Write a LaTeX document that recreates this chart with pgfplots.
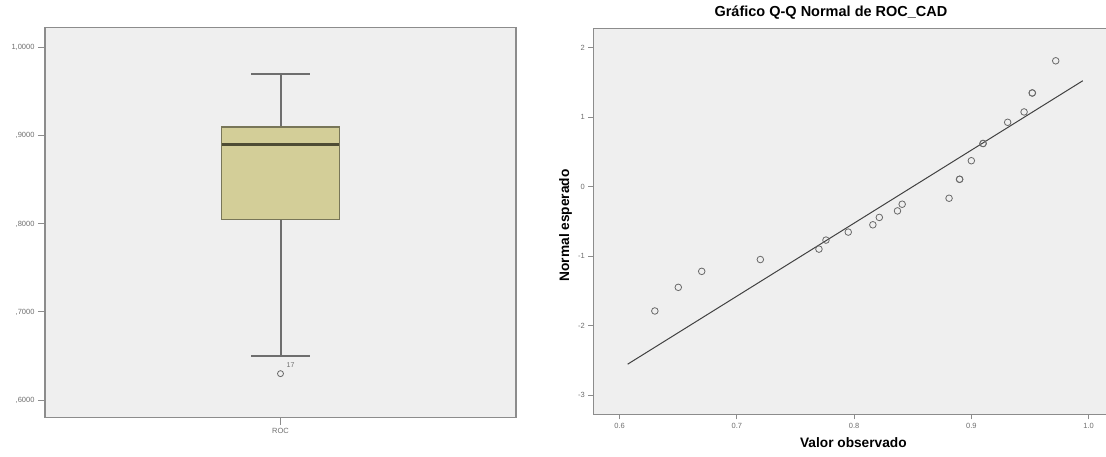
\documentclass[border=0pt]{standalone}
\usepackage{pgfplots}
\pgfplotsset{compat=1.18}
\usepgfplotslibrary{statistics}
\usepackage{fontspec}
\setmainfont{Liberation Sans}
\definecolor{bgc}{RGB}{239,239,239}
\definecolor{framec}{RGB}{140,140,140}
\definecolor{boxc}{RGB}{211,206,152}
\definecolor{boxedge}{RGB}{120,118,88}
\definecolor{medc}{RGB}{78,76,52}
\definecolor{whc}{RGB}{110,110,110}
\definecolor{ptc}{RGB}{105,105,105}
\definecolor{linec}{RGB}{65,65,65}
\definecolor{tickc}{RGB}{110,110,110}

\begin{document}
\begin{tikzpicture}[x=1pt,y=1pt]
\useasboundingbox (0,0) rectangle (1106,457);
% ---------------- Box plot ----------------
\begin{axis}[
  at={(45pt,39.3pt)}, anchor=south west,
  scale only axis, width=471pt, height=390pt,
  xmin=0, xmax=2, ymin=0.58, ymax=1.0227,
  axis background/.style={fill=bgc},
  axis line style={framec, line width=1.3pt},
  tick align=outside, xtick pos=bottom, ytick pos=left,
  major tick length=7pt,
  tick style={framec, line width=1pt},
  xtick={1}, xticklabels={ROC},
  ytick={0.6,0.7,0.8,0.9,1.0},
  yticklabels={{,6000},{,7000},{,8000},{,9000},{1,0000}},
  tick label style={font=\fontsize{7.5}{9}\selectfont, text=tickc},
  clip=false,
]
\addplot[
  draw=whc, line width=2pt,
  boxplot/draw direction=y,
  boxplot prepared={draw position=1, lower whisker=0.65, lower quartile=0.805,
    median=0.89, upper quartile=0.91, upper whisker=0.97,
    box extend=0.5, whisker extend=0.25},
  boxplot/every box/.style={fill=boxc, draw=boxedge, line width=1.2pt},
  boxplot/every whisker/.style={draw=whc, line width=2pt},
  boxplot/every median/.style={draw=medc, line width=2.8pt},
  mark=o, mark size=3pt, mark options={draw=ptc, line width=0.8pt}
] coordinates {(0,0.63)};
\node[font=\fontsize{7}{8}\selectfont, text=tickc, xshift=10pt, yshift=9pt] at (axis cs:1,0.63) {17};
\end{axis}
% ---------------- Q-Q plot ----------------
\begin{axis}[
  at={(593.3pt,42.7pt)}, anchor=south west,
  scale only axis, width=514.7pt, height=385.6pt,
  xmin=0.5775, xmax=1.0166, ymin=-3.277, ymax=2.272,
  axis background/.style={fill=bgc},
  axis line style={framec, line width=1.3pt},
  tick align=outside, xtick pos=bottom, ytick pos=left,
  major tick length=5pt,
  tick style={framec, line width=1pt},
  xtick={0.6,0.7,0.8,0.9,1.0}, xticklabels={0.6,0.7,0.8,0.9,1.0},
  ytick={-3,-2,-1,0,1,2}, yticklabels={-3,-2,-1,0,1,2},
  tick label style={font=\fontsize{7.5}{9}\selectfont, text=tickc},
  title={Gráfico Q-Q Normal de ROC\_CAD},
  title style={at={(0.4618,1)}, anchor=base, yshift=5.7pt, font=\bfseries\fontsize{14.5}{16}\selectfont},
  xlabel={Valor observado},
  xlabel style={at={(0.5053,0)}, anchor=base, yshift=-33.7pt, font=\bfseries\fontsize{13.7}{15}\selectfont},
  ylabel={Normal esperado},
  ylabel style={at={(-0.0472,0.49)}, anchor=base, font=\bfseries\fontsize{13.7}{15}\selectfont},
]
\addplot[draw=linec, line width=1pt] coordinates {(0.6068,-2.556) (0.9951,1.523)};
\addplot[only marks, mark=o, mark size=3.3pt, mark options={draw=ptc, line width=0.8pt}] table {
x y
0.63 -1.79
0.65 -1.45
0.67 -1.22
0.72 -1.05
0.77 -0.90
0.776 -0.77
0.795 -0.655
0.816 -0.55
0.8215 -0.444
0.837 -0.35
0.841 -0.254
0.881 -0.168
0.89 0.105
0.89 0.105
0.90 0.372
0.91 0.62
0.91 0.62
0.931 0.925
0.945 1.074
0.952 1.347
0.952 1.347
0.972 1.81
};
\end{axis}
\end{tikzpicture}
\end{document}
